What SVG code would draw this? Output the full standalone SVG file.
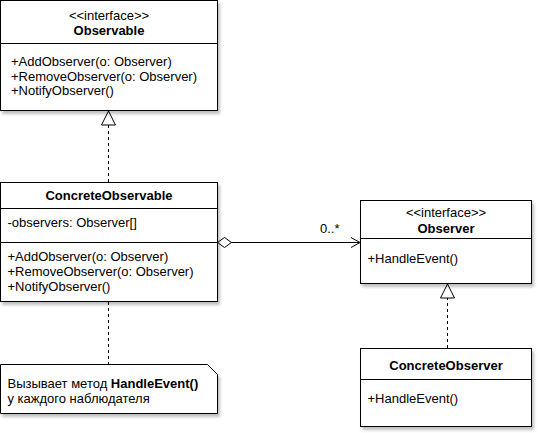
<svg xmlns="http://www.w3.org/2000/svg" width="539" height="433" viewBox="0 0 539 433">
  <defs>
    <filter id="sh" x="-10%" y="-10%" width="130%" height="130%">
      <feDropShadow dx="2" dy="3" stdDeviation="1.5" flood-color="#000" flood-opacity="0.25"/>
    </filter>
    <marker id="tri" viewBox="0 0 16 16" refX="15" refY="8" markerWidth="16" markerHeight="16" markerUnits="userSpaceOnUse" orient="auto">
      <path d="M1,1 L15,8 L1,15 Z" fill="#fff" stroke="#000" stroke-width="1"/>
    </marker>
    <marker id="open" viewBox="0 0 12 12" refX="11" refY="6" markerWidth="12" markerHeight="12" markerUnits="userSpaceOnUse" orient="auto">
      <path d="M2,1 L11,6 L2,11" fill="none" stroke="#000" stroke-width="1"/>
    </marker>
    <marker id="dia" viewBox="0 0 16 12" refX="1" refY="6" markerWidth="16" markerHeight="12" markerUnits="userSpaceOnUse" orient="auto">
      <path d="M1,6 L8,1 L15,6 L8,11 Z" fill="#fff" stroke="#000" stroke-width="1"/>
    </marker>
  </defs>
  <style>
    .box { fill: #fff; stroke: #000; stroke-width: 1; filter: url(#sh); }
    .div { stroke: #000; stroke-width: 1; }
    text { font-family: "Liberation Sans", Arial, Helvetica, sans-serif; font-size: 13px; fill: #000; }
    .b { font-weight: bold; }
    .c { text-anchor: middle; }
    .edge { fill: none; stroke: #000; stroke-width: 1; }
    .dash { stroke-dasharray: 3 3; }
  </style>
  <rect width="539" height="433" fill="#fff"/>

  <g id="connectors">
    <path class="edge dash" d="M108.5,182 L108.5,111" marker-end="url(#tri)"/>
    <path class="edge dash" d="M447.5,348 L447.5,284" marker-end="url(#tri)"/>
    <path class="edge" d="M217.5,242.5 L360,242.5" marker-start="url(#dia)" marker-end="url(#open)"/>
    <path class="edge dash" d="M108.5,302 L108.5,364"/>
    <text x="320" y="232.5">0..*</text>
  </g>

  <g id="Observable">
    <rect class="box" x="0.5" y="0.5" width="217" height="110"/>
    <line class="div" x1="0.5" y1="43.5" x2="217.5" y2="43.5"/>
    <text class="c" x="109" y="19.5">&lt;&lt;interface&gt;&gt;</text>
    <text class="c b" x="109" y="34.5">Observable</text>
    <text x="11" y="66">+AddObserver(o: Observer)</text>
    <text x="11" y="80.5">+RemoveObserver(o: Observer)</text>
    <text x="11" y="95">+NotifyObserver()</text>
  </g>

  <g id="ConcreteObservable">
    <rect class="box" x="0.5" y="182.5" width="217" height="119"/>
    <line class="div" x1="0.5" y1="208.5" x2="217.5" y2="208.5"/>
    <line class="div" x1="0.5" y1="242.5" x2="217.5" y2="242.5"/>
    <text class="c b" x="109" y="199.5">ConcreteObservable</text>
    <text x="7.5" y="226.5">-observers: Observer[]</text>
    <text x="7.5" y="261">+AddObserver(o: Observer)</text>
    <text x="7.5" y="276">+RemoveObserver(o: Observer)</text>
    <text x="7.5" y="291">+NotifyObserver()</text>
  </g>

  <g id="Observer">
    <rect class="box" x="360.5" y="200.5" width="171" height="83"/>
    <line class="div" x1="360.5" y1="238.5" x2="531.5" y2="238.5"/>
    <text class="c" x="446" y="216.5">&lt;&lt;interface&gt;&gt;</text>
    <text class="c b" x="446" y="232.5">Observer</text>
    <text x="367.5" y="262.5">+HandleEvent()</text>
  </g>

  <g id="ConcreteObserver">
    <rect class="box" x="360.5" y="348.5" width="171" height="78"/>
    <line class="div" x1="360.5" y1="379.5" x2="531.5" y2="379.5"/>
    <text class="c b" x="446" y="369.5">ConcreteObserver</text>
    <text x="367.5" y="402.5">+HandleEvent()</text>
  </g>

  <g id="Note">
    <path class="box" d="M0.5,364.5 L207.5,364.5 L217.5,374.5 L217.5,413.5 L0.5,413.5 Z"/>
    <text x="7.5" y="387.5">Вызывает метод <tspan class="b">HandleEvent()</tspan></text>
    <text x="7.5" y="402.5">у каждого наблюдателя</text>
  </g>
</svg>
